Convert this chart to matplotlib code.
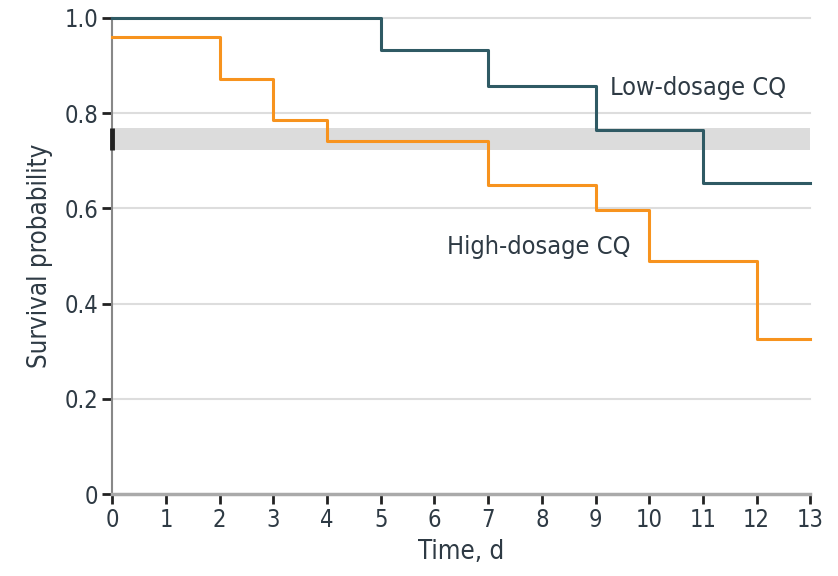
import matplotlib.pyplot as plt
import numpy as np

# step data (post-step values)
low_t = [0, 5, 7, 9, 11, 13]
low_s = [1.0, 0.933, 0.857, 0.765, 0.653, 0.653]
high_t = [0, 2, 3, 4, 7, 9, 10, 12, 13]
high_s = [0.96, 0.872, 0.786, 0.742, 0.649, 0.597, 0.489, 0.326, 0.326]
band = (0.723, 0.769)
xticks = list(range(0, 14))
yticks = [0, 0.2, 0.4, 0.6, 0.8, 1.0]
ytick_labels = ['0', '0.2', '0.4', '0.6', '0.8', '1.0']

txt = '#2e3a44'
low_col = '#2f5a64'
high_col = '#f7931e'


def main():
    plt.rcParams['font.family'] = ['DejaVu Sans']
    plt.rcParams['font.stretch'] = 'condensed'
    fig = plt.figure(figsize=(8.38, 5.76), dpi=100)
    ax = fig.add_axes([0.134, 0.142, 0.833, 0.827])

    for y in yticks[1:]:
        ax.axhline(y, color='#dddddd', lw=1.5, zorder=0, clip_on=False)
    ax.axhspan(band[0], band[1], color='#dcdcdc', lw=0, zorder=0.5)
    ax.plot([0, 0], band, color='#222222', lw=3.5, solid_capstyle='butt', zorder=3, clip_on=False)

    ax.step(low_t, low_s, where='post', color=low_col, lw=2.2, zorder=4, clip_on=False)
    ax.step(high_t, high_s, where='post', color=high_col, lw=2.2, zorder=4, clip_on=False)

    ax.text(9.26, 0.853, 'Low-dosage CQ', fontsize=18.2, color=txt, va='center', ha='left')
    ax.text(6.24, 0.519, 'High-dosage CQ', fontsize=18.2, color=txt, va='center', ha='left')

    ax.set_xlim(0, 13)
    ax.set_ylim(0, 1.0)
    ax.set_xticks(xticks)
    ax.set_yticks(yticks)
    ax.set_yticklabels(ytick_labels)
    ax.tick_params(axis='both', direction='out', length=7, width=2, color='#222222',
                   labelsize=17, labelcolor=txt, pad=3)

    for s in ['top', 'right']:
        ax.spines[s].set_visible(False)
    ax.spines['left'].set_color('#888888')
    ax.spines['left'].set_linewidth(1.5)
    ax.spines['bottom'].set_color('#aaaaaa')
    ax.spines['bottom'].set_linewidth(2.5)

    ax.set_xlabel('Time, d', fontsize=18.5, color=txt, labelpad=5)
    ax.set_ylabel('Survival probability', fontsize=18.5, color=txt, labelpad=8)

    fig.savefig('out.png', dpi=100)


if __name__ == '__main__':
    main()
